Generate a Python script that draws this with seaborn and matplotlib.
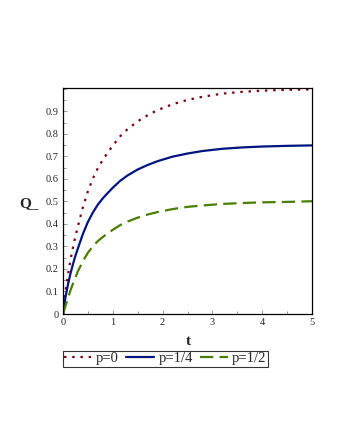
import numpy as np
import pandas as pd
import seaborn as sns
import matplotlib.pyplot as plt
from matplotlib.ticker import MultipleLocator

# values
t = [0, 0.025, 0.05, 0.1, 0.15, 0.2, 0.25, 0.3, 0.4, 0.5, 0.6, 0.7, 0.8,
     0.9, 1.0, 1.15, 1.3, 1.5, 1.7, 1.9, 2.2, 2.5, 2.8, 3.2, 3.6, 4.0,
     4.5, 5.0]
q_p0 = [0, 0.05, 0.10, 0.175, 0.24, 0.295, 0.345, 0.39, 0.475, 0.545,
        0.602, 0.648, 0.685, 0.718, 0.748, 0.79, 0.822, 0.856, 0.883,
        0.906, 0.932, 0.951, 0.965, 0.979, 0.987, 0.992, 0.996, 0.998]
q_p14 = [0, 0.037, 0.075, 0.131, 0.18, 0.221, 0.259, 0.292, 0.356, 0.409,
         0.451, 0.486, 0.514, 0.538, 0.561, 0.592, 0.616, 0.642, 0.662,
         0.679, 0.699, 0.713, 0.724, 0.734, 0.740, 0.744, 0.747, 0.749]
q_p12 = [0, 0.018, 0.036, 0.07, 0.105, 0.135, 0.163, 0.19, 0.235, 0.272,
         0.301, 0.324, 0.342, 0.359, 0.374, 0.395, 0.411, 0.428, 0.442,
         0.453, 0.466, 0.476, 0.482, 0.489, 0.493, 0.496, 0.498, 0.501]
labels = ["p=0", "p=1/4", "p=1/2"]
colors = {"p=0": "#7d0014", "p=1/4": "#00147f", "p=1/2": "#4a7d00"}
dashes = {"p=0": (1.1, 2.6), "p=1/4": "", "p=1/2": (6, 2.8)}

df = pd.concat([
    pd.DataFrame({"t": t, "Q": q, "series": lab})
    for q, lab in zip([q_p0, q_p14, q_p12], labels)
], ignore_index=True)

sns.set_style("ticks")
plt.rcParams["font.family"] = ["Liberation Serif", "DejaVu Serif"]

fig = plt.figure(figsize=(3.4, 4.4), dpi=100)
ax = fig.add_axes([63 / 340, 1 - 314 / 440, 249 / 340, 226 / 440])

sns.lineplot(data=df, x="t", y="Q", hue="series", style="series",
             palette=colors, dashes=dashes, hue_order=labels,
             style_order=labels, linewidth=1.6, legend=False, ax=ax)
for ln in ax.lines:
    ln.set_dash_capstyle("butt")
    ln.set_solid_joinstyle("round")

ax.set_xlim(0, 5)
ax.set_ylim(0, 1.004)
ax.xaxis.set_major_locator(MultipleLocator(1))
ax.xaxis.set_minor_locator(MultipleLocator(0.5))
ax.yaxis.set_minor_locator(MultipleLocator(0.05))
ax.set_yticks(np.arange(0, 0.95, 0.1))
ax.set_yticklabels(["0"] + [f"{v:.1f}" for v in np.arange(0.1, 0.95, 0.1)])
ax.tick_params(axis="both", which="both", direction="in", labelsize=7.5,
               width=0.6, color="#888888")
ax.tick_params(which="major", length=3)
ax.tick_params(which="minor", length=2)
ax.tick_params(axis="both", pad=3)
for s in ax.spines.values():
    s.set_linewidth(0.9)
    s.set_color("black")

ax.set_xlabel("t", fontsize=11, fontweight="bold")
ax.set_ylabel("Q_", fontsize=11, fontweight="bold", rotation=0)
ax.xaxis.set_label_coords(0.502, -0.095)
ax.yaxis.set_label_coords(-0.135, 0.46)

leg = ax.legend(handles=ax.lines[:3], labels=labels, ncol=3,
                loc="upper left", bbox_to_anchor=(-0.002, -0.162),
                frameon=True, fancybox=False, fontsize=10.5,
                handlelength=1.9, handletextpad=0.3, columnspacing=0.5,
                borderpad=0.1, borderaxespad=0)
leg.get_frame().set_edgecolor("black")
leg.get_frame().set_linewidth(0.8)

fig.savefig("out.png", dpi=100)
